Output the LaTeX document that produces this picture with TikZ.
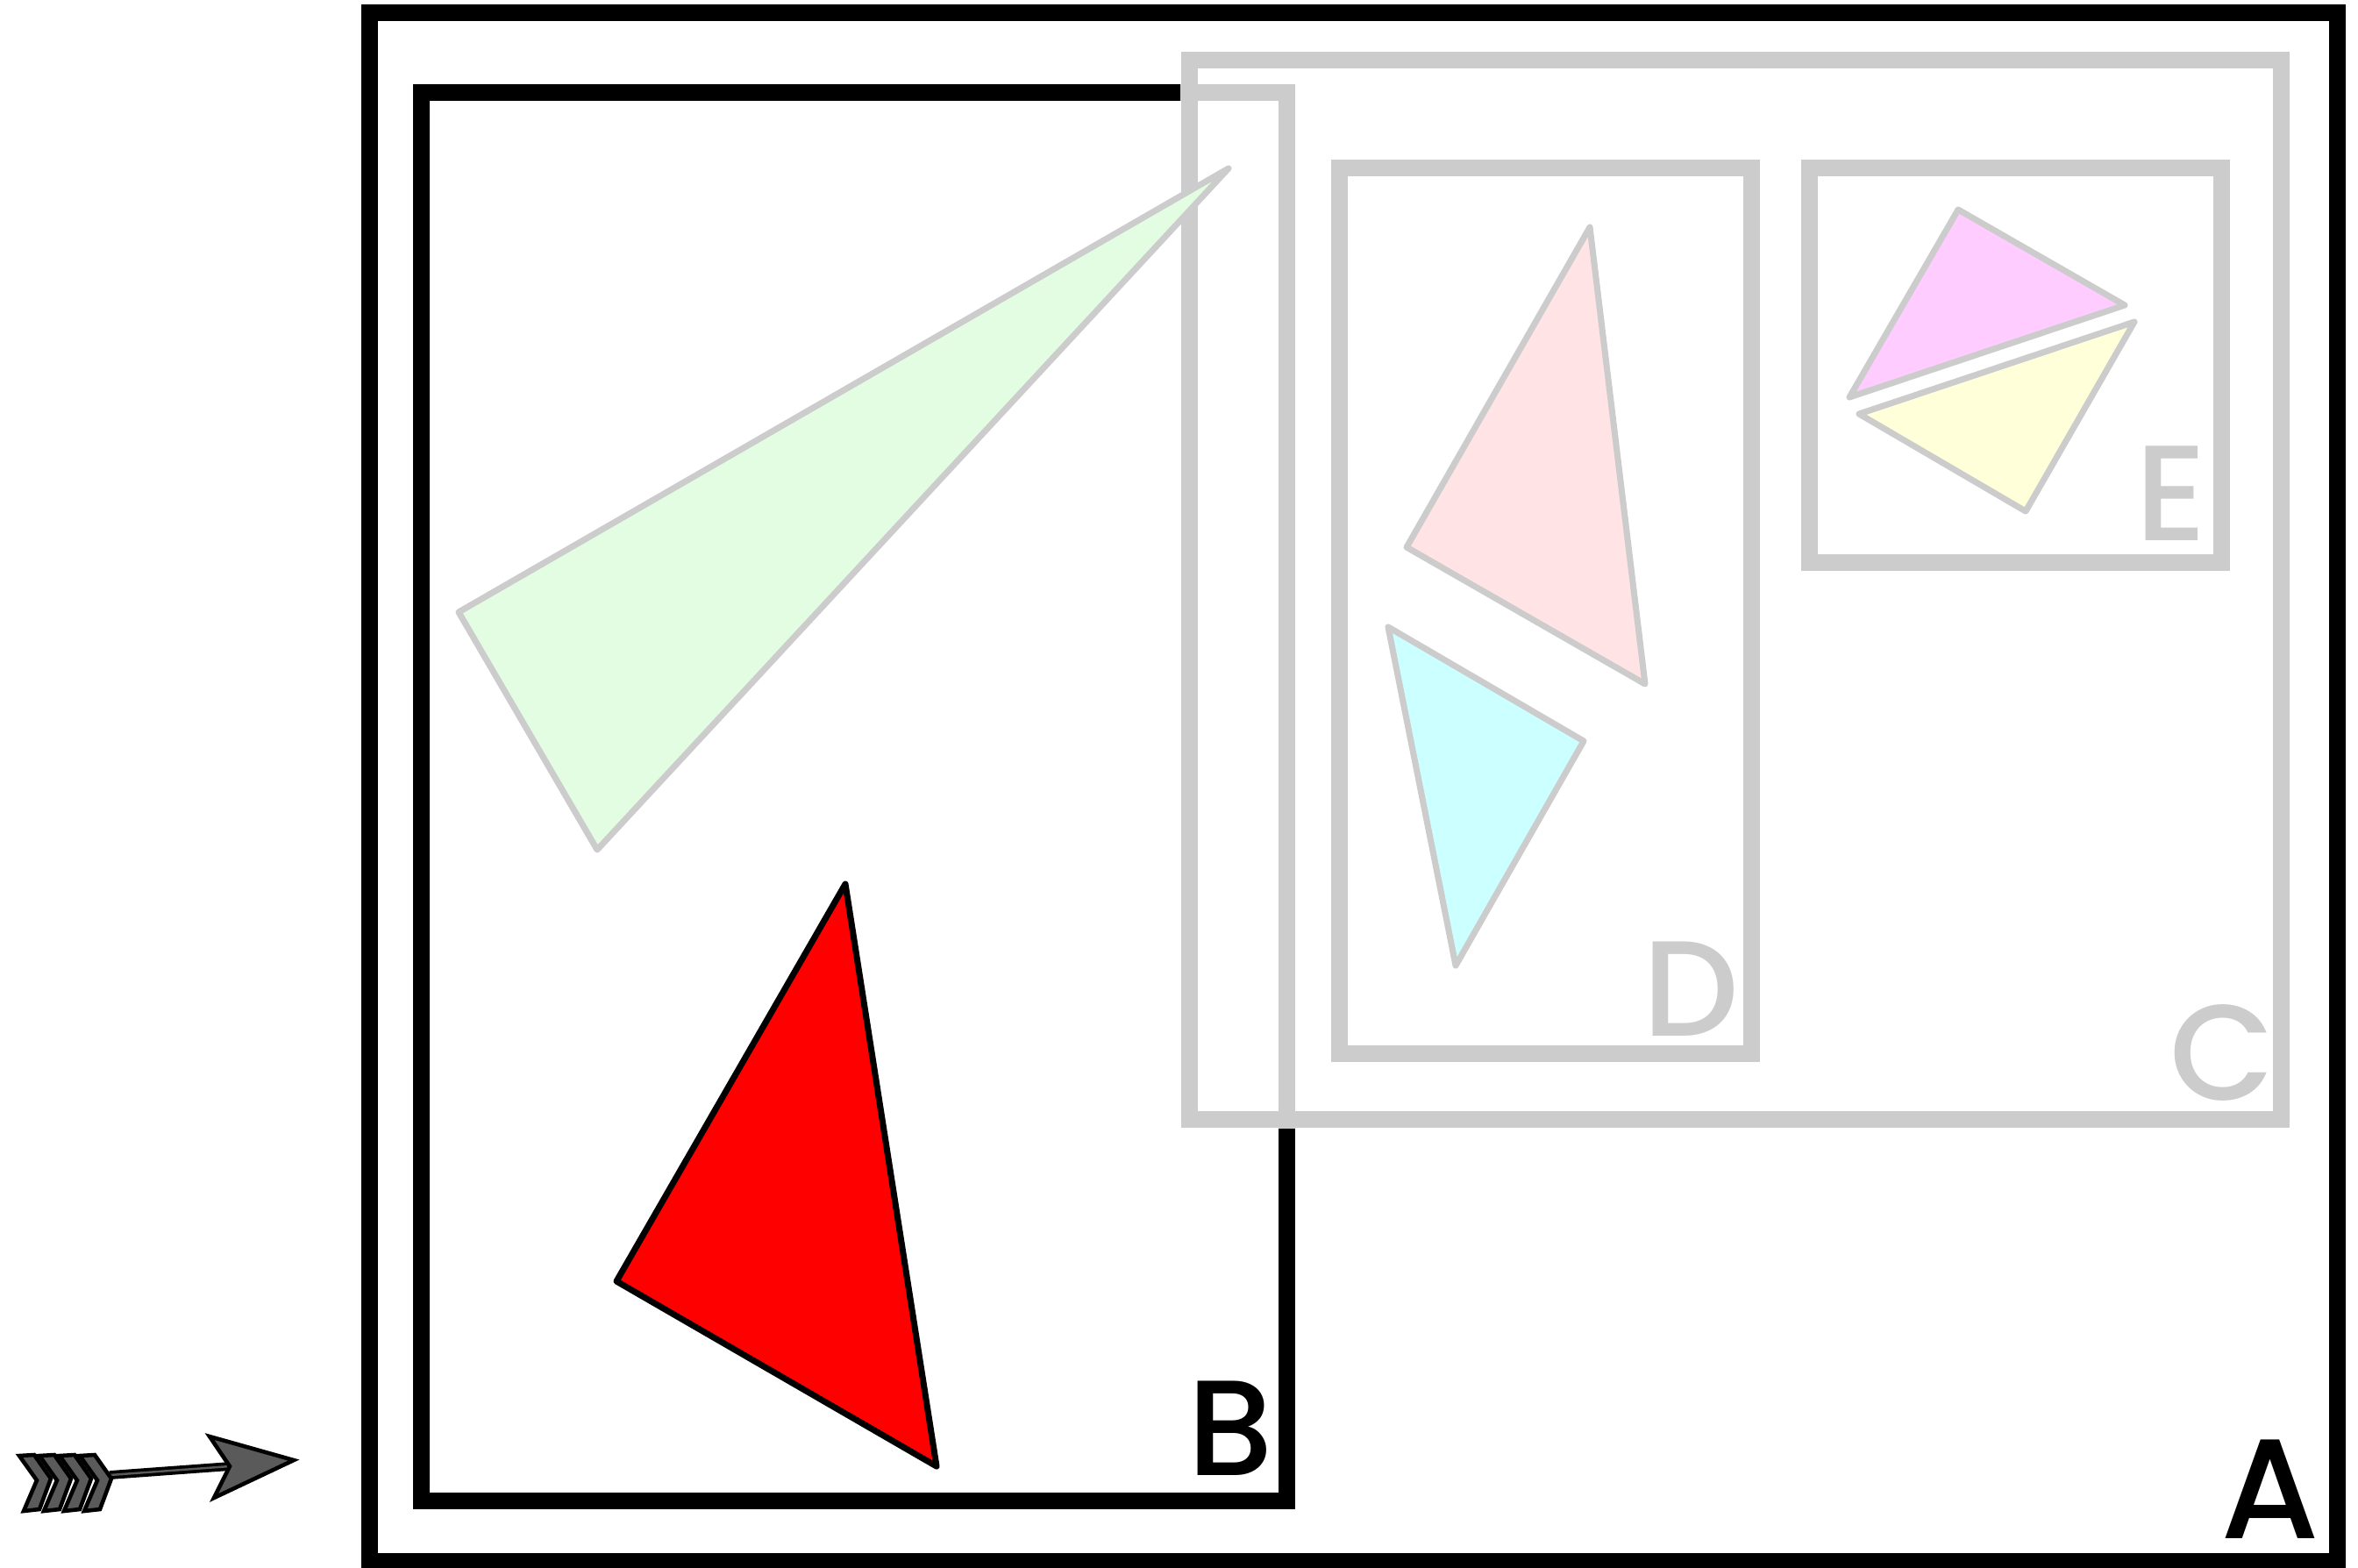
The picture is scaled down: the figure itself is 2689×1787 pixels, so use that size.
\documentclass[tikz,border=0pt]{standalone}
\usepackage{fontspec}
\setmainfont{Poppins}
\newfontfamily\labelfont{Poppins Medium}
\usepackage{tikz}

\definecolor{boxgray}{HTML}{CCCCCC}
\definecolor{greenfill}{HTML}{E2FDE2}
\definecolor{pinkfill}{HTML}{FFE3E5}
\definecolor{cyanfill}{HTML}{CCFFFF}
\definecolor{magentafill}{HTML}{FFCCFF}
\definecolor{yellowfill}{HTML}{FFFFD9}
\definecolor{arrowgray}{HTML}{5A5A5A}

\begin{document}
\begin{tikzpicture}[x=0.01cm,y=-0.01cm,
    blackbox/.style={draw=black,line width=5.4pt},
    graybox/.style={draw=boxgray,line width=5.4pt},
    tri/.style={draw=boxgray,line width=2pt,line join=round},
    redtri/.style={draw=black,fill=red,line width=2pt,line join=round},
    letter/.style={inner sep=0pt,anchor=base,font=\labelfont\fontsize{44}{44}\selectfont},
    feather/.style={fill=arrowgray,draw=black,line width=1.3pt}]
    \useasboundingbox (0,0) rectangle (2689,1787);

    % boxes A and B
    \draw[blackbox] (421,14) rectangle (2665,1780);
    \draw[blackbox] (480,105) rectangle (1467,1711);
    \begin{scope}
        \clip (1346,59) rectangle (2611,1286);
        \draw[graybox] (480,105) rectangle (1467,1711);
    \end{scope}

    % box C holding D and E
    \draw[graybox] (1356,68) rectangle (2601,1276);
    \draw[graybox] (1527,191) rectangle (1997,1201);
    \draw[graybox] (2063,191) rectangle (2533,641);

    % triangles
    \draw[tri,fill=greenfill] (523,698) -- (1401,192) -- (681,969) -- cycle;
    \draw[redtri] (964,1008) -- (703,1461) -- (1068,1672) -- cycle;
    \draw[tri,fill=pinkfill] (1813,259) -- (1604,624) -- (1876,780) -- cycle;
    \draw[tri,fill=cyanfill] (1583,715) -- (1806,845) -- (1660,1101) -- cycle;
    \draw[tri,fill=magentafill] (2233,239) -- (2109,453) -- (2423,348) -- cycle;
    \draw[tri,fill=yellowfill] (2120,472) -- (2434,367) -- (2310,583) -- cycle;

    % labels
    \node[letter,font=\labelfont\fontsize{46}{46}\selectfont] (labA) at (2589,1754) {A};
    \node[letter] (labB) at (1403,1682) {B};
    \node[letter,text=boxgray] (labC) at (2534,1254) {C};
    \node[letter,text=boxgray] (labD) at (1928,1181) {D};
    \node[letter,text=boxgray] (labE) at (2476,616) {E};

    % arrow
    \coordinate (tail) at (125,1682);
    \coordinate (notch) at (262,1672);
    \coordinate (tip) at (335,1665);
    \draw[black,line width=2.8pt] (tail) -- (notch);
    \draw[arrowgray,line width=0.7pt] (tail) -- (notch);
    \draw[feather,line join=miter] (tip) -- (239,1638) -- (notch) -- (244,1708) -- cycle;
    \foreach \x in {22,45,68,91} {
        \draw[feather] (\x,1660) -- ++(17,-1) -- ++(19,27) -- ++(-13,35) -- ++(-18,2) -- ++(15,-35) -- cycle;
    }
\end{tikzpicture}
\end{document}
